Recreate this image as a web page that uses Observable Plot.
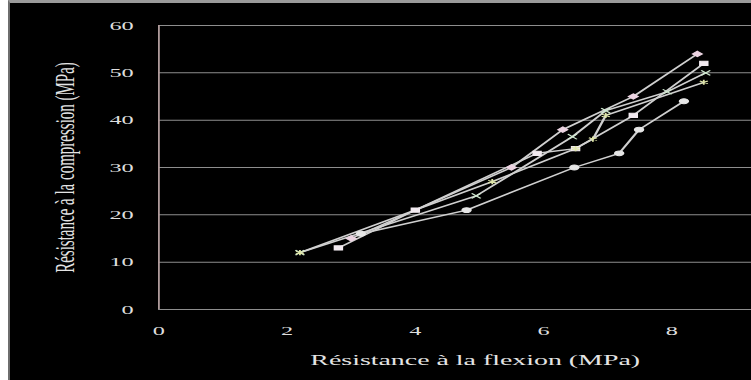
<!DOCTYPE html>
<html>
<head>
<meta charset="utf-8">
<script src="https://cdn.jsdelivr.net/npm/d3@7"></script>
<script src="https://cdn.jsdelivr.net/npm/@observablehq/plot@0.6"></script>
<style>
  html, body { margin: 0; padding: 0; background: #ffffff; width: 751px; height: 380px; overflow: hidden; }
  #panel { position: absolute; left: 8px; top: 0; width: 741px; height: 377px; background: #000;
           border-top: 3px solid #9a9a9a; border-left: 2px solid #6e6e6e; }
  #chart { position: absolute; left: 0; top: 0; }
</style>
</head>
<body>
<div id="panel"></div>
<div id="chart"></div>
<script>
// ---- data ----
const seriesNames = ["Série 1", "Série 2", "Série 3", "Série 4", "Série 5"];
const flex1 = [3.0, 5.5, 6.3, 7.4, 8.4];
const comp1 = [15, 30, 38, 45, 54];
const flex2 = [2.8, 4.0, 5.9, 6.5, 7.4, 8.5];
const comp2 = [13, 21, 33, 34, 41, 52];
const flex3 = [2.2, 4.95, 6.45, 6.97, 7.93, 8.53];
const comp3 = [12, 24, 36.5, 42, 46, 50];
const flex4 = [2.2, 5.2, 6.5, 6.77, 6.97, 8.5];
const comp4 = [12, 27, 34, 36, 41, 48];
const flex5 = [3.15, 4.8, 6.48, 7.18, 7.49, 8.19];
const comp5 = [16, 21, 30, 33, 38, 44];
const xTicks = [0, 2, 4, 6, 8];
const yTicks = [0, 10, 20, 30, 40, 50, 60];
const xTitle = "Résistance à la flexion (MPa)";
const yTitle = "Résistance à la compression (MPa)";

const flexArrays = [flex1, flex2, flex3, flex4, flex5];
const compArrays = [comp1, comp2, comp3, comp4, comp5];
const data = [];
seriesNames.forEach((name, i) => {
  flexArrays[i].forEach((f, j) => data.push({series: name, flex: f, comp: compArrays[i][j]}));
});

const S = 1.8; // horizontal stretch of the original picture
const svg = Plot.plot({
  width: 751 / S,
  height: 380,
  marginLeft: 158 / S,
  marginRight: 0,
  marginTop: 25,
  marginBottom: 71,
  style: {background: "transparent", color: "#dedede", fontFamily: "'Liberation Serif', 'Times New Roman', serif", fontSize: "13.5px", overflow: "visible"},
  x: {domain: [0, 9.25]},
  y: {domain: [0, 60]},
  color: {domain: seriesNames, range: ["#ecd4e2", "#f2eaf0", "#cfe8cf", "#dfe6a8", "#e6e6e6"]},
  symbol: {domain: seriesNames, range: ["diamond2", "square", "times", "asterisk", "circle"]},
  marks: [
    Plot.gridY(yTicks, {stroke: "#8e8e8e", strokeOpacity: 1}),
    Plot.ruleX([0], {stroke: "#b09c9c", strokeOpacity: 1}),
    Plot.axisY(yTicks, {tickSize: 0, tickPadding: 14, label: null, fill: "#dedede"}),
    Plot.axisX(xTicks, {tickSize: 0, tickPadding: 16, label: null, fill: "#dedede"}),
    Plot.line(data, {x: "flex", y: "comp", z: "series", stroke: "#d0d0d0", strokeWidth: 1.4}),
    Plot.dot(data, {x: "flex", y: "comp", symbol: "series", fill: "series", stroke: "series", strokeWidth: 1, r: 2.4}),
    Plot.text([xTitle], {text: d => d, frameAnchor: "bottom", textAnchor: "middle", dx: 11, dy: 51, fontSize: 15.5, fill: "#e4e4e4", lineAnchor: "middle"}),
    Plot.text([yTitle], {text: d => d, frameAnchor: "left", textAnchor: "middle", rotate: -90, dx: -52, fontSize: 15, fill: "#e4e4e4", lineAnchor: "middle"})
  ]
});
svg.style.position = "absolute";
svg.style.left = "0px";
svg.style.top = "0px";
svg.style.maxWidth = "none";
svg.style.transformOrigin = "0 0";
svg.style.transform = `scaleX(${S})`;
document.getElementById("chart").appendChild(svg);
</script>
</body>
</html>
